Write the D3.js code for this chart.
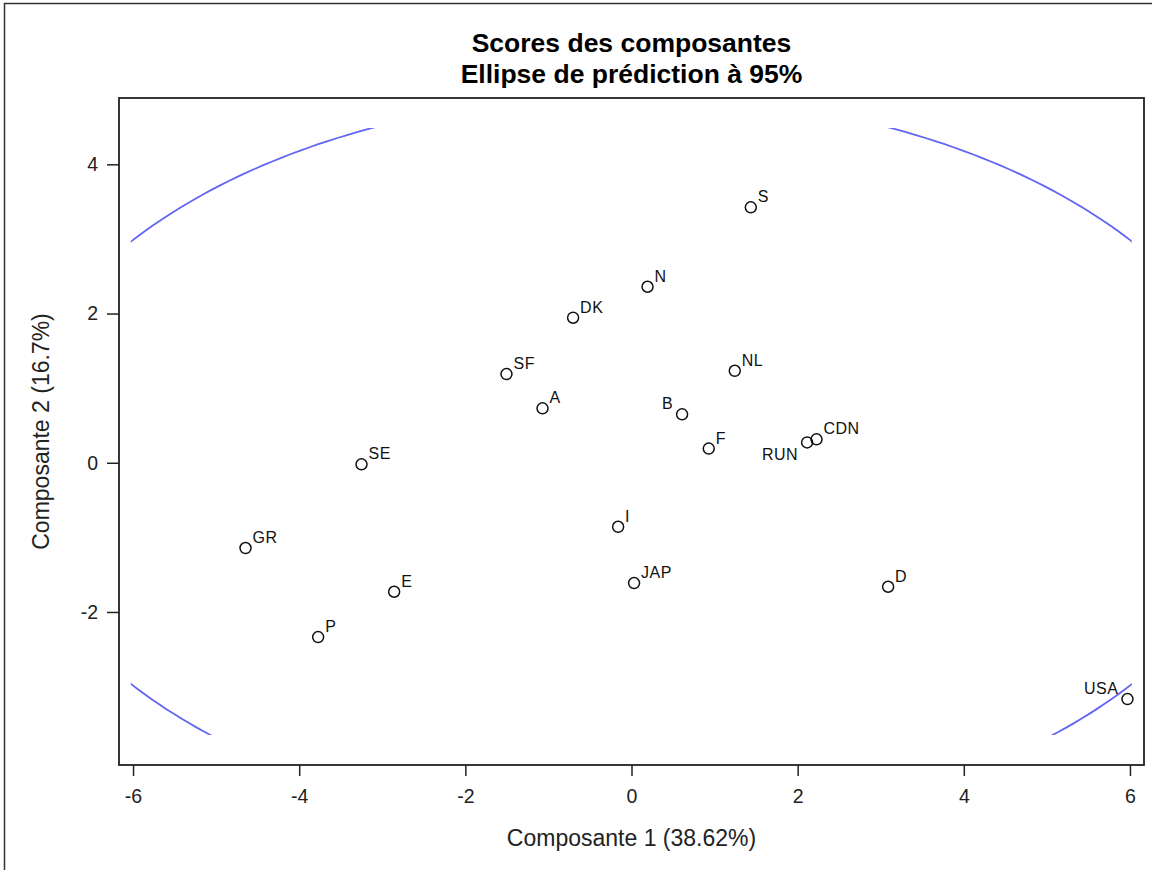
<!DOCTYPE html>
<html>
<head>
<meta charset="utf-8">
<script src="https://cdn.jsdelivr.net/npm/d3@7"></script>
<style>
  html, body { margin: 0; padding: 0; background: #fff; }
  svg { display: block; font-family: "Liberation Sans", Arial, sans-serif; }
</style>
</head>
<body>
<svg id="chart" width="1152" height="870"></svg>
<script>
// ---- Data ----
const titleLines = ["Scores des composantes", "Ellipse de prédiction à 95%"];
const xLabel = "Composante 1 (38.62%)";
const yLabel = "Composante 2 (16.7%)";
const labels = ["S", "N", "DK", "SF", "A", "B", "NL", "F", "RUN", "CDN", "SE", "GR", "E", "P", "I", "JAP", "D", "USA"];
const comp1 = [1.436, 0.193, -0.703, -1.505, -1.071, 0.609, 1.243, 0.930, 2.114, 2.227, -3.250, -4.646, -2.857, -3.772, -0.161, 0.031, 3.089, 5.970];
const comp2 = [3.424, 2.359, 1.944, 1.189, 0.729, 0.649, 1.233, 0.190, 0.273, 0.314, -0.021, -1.143, -1.729, -2.336, -0.858, -1.613, -1.662, -3.168];
const labelSide = ["ur", "ur", "ur", "ur", "ur", "ul", "ur", "ur", "ll", "ur", "ur", "ur", "ur", "ur", "ur", "ur", "ur", "ul"];
const xTicks = [-6, -4, -2, 0, 2, 4, 6];
const yTicks = [-2, 0, 2, 4];
const xDomain = [-6.169, 6.169];
const yDomain = [-4.051, 4.889];
// 95% prediction ellipse (centre, semi-axes) and its drawing window
const ellipseCenter = [0, 0];
const ellipseAxes = [7.54, 4.93];
const ellipseWindowX = [-6.027, 6.022];
const ellipseWindowY = [-3.65, 4.487];

// ---- Layout ----
const svg = d3.select("#chart");
const W = 1152, H = 870;
const plot = { left: 119, right: 1144, top: 98, bottom: 765 };

const x = d3.scaleLinear().domain(xDomain).range([plot.left, plot.right]);
const y = d3.scaleLinear().domain(yDomain).range([plot.bottom, plot.top]);

// outer border (top & left visible)
svg.append("rect")
  .attr("x", 4.5).attr("y", 3.5)
  .attr("width", W + 10).attr("height", H + 10)
  .attr("fill", "none").attr("stroke", "#333").attr("stroke-width", 1.5);

// title
svg.append("g").selectAll("text").data(titleLines).join("text")
  .attr("x", (plot.left + plot.right) / 2)
  .attr("y", (d, i) => 52 + i * 31)
  .attr("text-anchor", "middle")
  .attr("font-weight", "bold")
  .attr("font-size", 26.5)
  .attr("fill", "#000")
  .text(d => d);

// clip for ellipse
const defs = svg.append("defs");
defs.append("clipPath").attr("id", "ellClip")
  .append("rect")
  .attr("x", x(ellipseWindowX[0])).attr("y", y(ellipseWindowY[1]))
  .attr("width", x(ellipseWindowX[1]) - x(ellipseWindowX[0]))
  .attr("height", y(ellipseWindowY[0]) - y(ellipseWindowY[1]));

// ellipse
const angles = d3.range(0, 361, 1).map(a => a * Math.PI / 180);
const ellPts = angles.map(t => [ellipseCenter[0] + ellipseAxes[0] * Math.cos(t), ellipseCenter[1] + ellipseAxes[1] * Math.sin(t)]);
svg.append("path")
  .attr("clip-path", "url(#ellClip)")
  .attr("d", d3.line().x(d => x(d[0])).y(d => y(d[1]))(ellPts))
  .attr("fill", "none")
  .attr("stroke", "#6464f5")
  .attr("stroke-width", 1.8);

// axes
const xAxis = svg.append("g")
  .attr("transform", `translate(0,${plot.bottom})`)
  .call(d3.axisBottom(x).tickValues(xTicks).tickSize(11).tickPadding(13).tickFormat(d3.format("d")));
const yAxis = svg.append("g")
  .attr("transform", `translate(${plot.left},0)`)
  .call(d3.axisLeft(y).tickValues(yTicks).tickSize(12).tickPadding(9).tickFormat(d3.format("d")));
[xAxis, yAxis].forEach(g => {
  g.select(".domain").remove();
  g.selectAll(".tick line").attr("stroke", "#222").attr("stroke-width", 1.5);
  g.selectAll(".tick text").attr("font-size", 19.5).attr("fill", "#222")
    .attr("font-family", "\"Liberation Sans\", Arial, sans-serif");
});
// use a plain hyphen-minus like the reference
xAxis.selectAll(".tick text").text(d => String(d));
yAxis.selectAll(".tick text").text(d => String(d));

// frame
svg.append("rect")
  .attr("x", plot.left).attr("y", plot.top)
  .attr("width", plot.right - plot.left).attr("height", plot.bottom - plot.top)
  .attr("fill", "none").attr("stroke", "#222").attr("stroke-width", 1.8);

// axis labels
svg.append("text")
  .attr("x", (plot.left + plot.right) / 2).attr("y", 846)
  .attr("text-anchor", "middle").attr("font-size", 23).attr("fill", "#222")
  .text(xLabel);
svg.append("text")
  .attr("transform", `translate(49,${(plot.top + plot.bottom) / 2}) rotate(-90)`)
  .attr("text-anchor", "middle").attr("font-size", 23).attr("fill", "#222")
  .text(yLabel);

// points
const pts = labels.map((l, i) => ({ label: l, c1: comp1[i], c2: comp2[i], side: labelSide[i] }));
const pg = svg.append("g");
pg.selectAll("circle").data(pts).join("circle")
  .attr("cx", d => x(d.c1)).attr("cy", d => y(d.c2))
  .attr("r", 5.5)
  .attr("fill", "none").attr("stroke", "#111").attr("stroke-width", 1.5);
pg.selectAll("text").data(pts).join("text")
  .attr("x", d => x(d.c1) + (d.side === "ur" ? 7 : -9))
  .attr("y", d => y(d.c2) + (d.side === "ll" ? 17.5 : -5))
  .attr("text-anchor", d => d.side === "ur" ? "start" : "end")
  .attr("font-size", 16).attr("fill", "#111")
  .attr("letter-spacing", 0.5)
  .text(d => d.label);
</script>
</body>
</html>
